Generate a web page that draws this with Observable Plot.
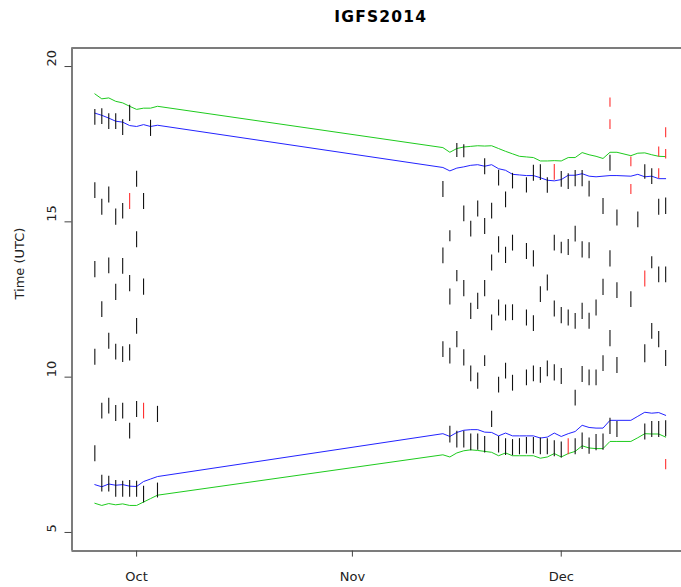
<!DOCTYPE html>
<html>
<head>
<meta charset="utf-8">
<script src="https://cdn.jsdelivr.net/npm/d3@7"></script>
<script src="https://cdn.jsdelivr.net/npm/@observablehq/plot@0.6"></script>
<style>
  html, body { margin: 0; padding: 0; background: #fff; }
  #chart svg { display: block; }
</style>
</head>
<body>
<div id="chart"></div>
<script>
// IGFS2014 survey: haul times (UTC) per survey day, with sunrise/sunset and civil twilight.

const chartTitle = "IGFS2014";
const yTitle = "Time (UTC)";
const hourTicks = [5, 10, 15, 20];
const monthTicks = ["2014-10-01", "2014-11-01", "2014-12-01"];

const surveyDays = [
  "2014-09-25", "2014-09-26", "2014-09-27", "2014-09-28", "2014-09-29",
  "2014-09-30", "2014-10-01", "2014-10-02", "2014-10-03", "2014-10-04",
  "2014-11-14", "2014-11-15", "2014-11-16", "2014-11-17", "2014-11-18",
  "2014-11-19", "2014-11-20", "2014-11-21", "2014-11-22", "2014-11-23",
  "2014-11-24", "2014-11-25", "2014-11-26", "2014-11-27", "2014-11-28",
  "2014-11-29", "2014-11-30", "2014-12-01", "2014-12-02", "2014-12-03",
  "2014-12-04", "2014-12-05", "2014-12-06", "2014-12-07", "2014-12-08",
  "2014-12-09", "2014-12-11", "2014-12-12", "2014-12-13", "2014-12-14",
  "2014-12-15", "2014-12-16"
];

// Hauls per survey day: [start hour, end hour] and a trailing 1 for flagged hauls.
const hauls = [
  [[18.11, 18.62], [15.75, 16.26], [13.20, 13.72], [10.38, 10.90], [7.28, 7.79]],
  [[18.13, 18.64], [15.21, 15.73], [11.92, 12.43], [8.65, 9.16], [6.30, 6.84]],
  [[17.97, 18.48], [15.61, 16.12], [13.33, 13.84], [10.90, 11.41], [8.81, 9.32], [6.30, 6.81]],
  [[17.97, 18.48], [14.89, 15.41], [12.47, 12.99], [10.55, 11.06], [8.57, 9.09], [6.13, 6.67]],
  [[17.78, 18.29], [15.09, 15.59], [13.31, 13.82], [10.47, 10.98], [8.65, 9.16], [6.13, 6.65]],
  [[18.23, 18.75], [15.40, 15.91, 1], [12.75, 13.27], [10.52, 11.04], [8.01, 8.52], [6.13, 6.67]],
  [[16.11, 16.63], [14.17, 14.68], [11.38, 11.89], [8.70, 9.22], [6.13, 6.65]],
  [[15.40, 15.91], [12.64, 13.16], [8.65, 9.16, 1], [5.95, 6.49]],
  [[17.75, 18.27]],
  [[8.54, 9.06], [6.11, 6.59]],
  [[15.78, 16.30], [13.65, 14.16], [10.63, 11.14]],
  [[14.36, 14.71], [12.32, 12.84], [10.42, 10.93], [7.88, 8.42]],
  [[17.07, 17.52], [13.07, 13.43], [10.95, 11.47], [7.72, 8.26]],
  [[17.06, 17.48], [15.00, 15.51], [12.59, 13.11], [10.36, 10.88], [7.72, 8.26]],
  [[14.51, 15.02], [11.86, 12.38], [9.85, 10.36], [7.63, 8.17]],
  [[15.16, 15.67], [12.18, 12.70], [9.61, 10.13], [7.65, 8.17]],
  [[16.52, 17.03], [14.59, 15.11], [12.59, 13.11], [10.34, 10.69], [7.56, 8.09]],
  [[15.09, 15.60], [13.42, 13.93], [11.49, 12.00], [8.38, 8.90]],
  [[16.15, 16.66], [14.00, 14.52], [11.97, 12.48], [9.49, 10.00], [7.56, 8.09]],
  [[15.45, 15.96], [13.66, 14.18], [11.81, 12.32], [9.94, 10.45], [7.48, 8.02]],
  [[16.06, 16.56], [14.06, 14.57], [11.82, 12.33], [9.55, 10.06], [7.47, 7.99]],
  [[7.50, 8.02]],
  [[15.93, 16.42], [13.79, 14.30], [11.65, 12.16], [9.72, 10.23], [7.53, 8.06]],
  [[16.31, 16.82], [13.55, 14.07], [11.47, 11.98], [9.85, 10.36], [7.53, 8.06]],
  [[16.33, 16.84], [12.40, 12.91], [9.80, 10.31], [7.50, 8.04]],
  [[15.92, 16.42], [12.77, 13.29], [10.01, 10.52], [7.50, 8.02]],
  [[16.34, 16.85, 1], [14.06, 14.57], [11.94, 12.45], [9.88, 10.40], [7.44, 7.95]],
  [[16.11, 16.62], [13.97, 14.34], [11.72, 12.24], [9.76, 10.28], [7.40, 7.91]],
  [[16.04, 16.55], [13.92, 14.43], [11.65, 12.16], [7.50, 8.02, 1]],
  [[16.13, 16.65], [14.35, 14.86], [11.54, 12.05], [9.07, 9.58], [7.50, 8.02]],
  [[16.13, 16.65], [13.84, 14.36], [11.86, 12.38], [9.83, 10.34], [7.67, 8.20]],
  [[15.80, 16.31], [13.81, 14.33], [11.54, 12.06], [9.72, 10.23], [7.52, 8.04]],
  [[11.97, 12.48], [9.72, 10.23], [7.63, 8.15]],
  [[15.24, 15.75], [12.63, 13.15], [10.18, 10.69], [7.65, 8.17]],
  [[18.69, 18.99, 1], [17.97, 18.29, 1], [16.63, 17.14], [13.55, 14.07], [10.98, 11.50], [8.15, 8.68]],
  [[14.87, 15.38], [12.53, 13.04], [10.12, 10.63], [8.06, 8.57]],
  [[16.77, 17.09, 1], [15.88, 16.20, 1], [12.24, 12.75]],
  [[14.81, 15.32]],
  [[16.37, 16.84], [12.90, 13.42, 1], [10.46, 11.04], [7.98, 8.49]],
  [[16.20, 16.71], [13.49, 13.88], [11.22, 11.73], [8.06, 8.57]],
  [[17.09, 17.41, 1], [16.39, 16.71, 1], [15.21, 15.73], [13.04, 13.55], [10.95, 11.47], [8.06, 8.57]],
  [[17.71, 18.03, 1], [17.02, 17.33, 1], [15.24, 15.77], [13.04, 13.55], [10.34, 10.86], [8.08, 8.60], [7.02, 7.35, 1]]
];

// Daylight at the haul positions, hours UTC, one value per survey day.
const sunset = [
  18.50, 18.43, 18.34, 18.24, 18.21, 18.10, 18.07, 18.13, 18.07, 18.11,
  16.75, 16.64, 16.73, 16.77, 16.82, 16.84, 16.79, 16.84, 16.71, 16.66,
  16.53, 16.51, 16.49, 16.49, 16.42, 16.34, 16.32, 16.36, 16.50, 16.50,
  16.55, 16.47, 16.45, 16.47, 16.49, 16.49, 16.47, 16.53, 16.45, 16.47,
  16.39, 16.39
];
const dusk = [
  19.12, 18.96, 18.99, 18.88, 18.83, 18.72, 18.62, 18.66, 18.66, 18.72,
  17.39, 17.24, 17.36, 17.41, 17.43, 17.45, 17.44, 17.45, 17.36, 17.27,
  17.19, 17.11, 17.09, 17.07, 16.96, 16.96, 16.97, 16.96, 17.07, 17.07,
  17.23, 17.16, 17.11, 17.04, 17.24, 17.24, 17.13, 17.21, 17.22, 17.16,
  17.11, 17.10
];
const sunrise = [
  6.54, 6.47, 6.56, 6.52, 6.54, 6.49, 6.48, 6.64, 6.72, 6.80,
  8.18, 8.09, 8.22, 8.29, 8.31, 8.31, 8.23, 8.22, 8.11, 8.20,
  8.11, 8.11, 8.11, 8.11, 8.04, 8.07, 8.20, 8.09, 8.18, 8.25,
  8.45, 8.38, 8.36, 8.36, 8.61, 8.61, 8.61, 8.74, 8.87, 8.84,
  8.86, 8.77
];
const dawn = [
  5.94, 5.87, 5.93, 5.89, 5.92, 5.87, 5.87, 5.98, 6.09, 6.20,
  7.50, 7.43, 7.56, 7.63, 7.66, 7.64, 7.61, 7.58, 7.47, 7.56,
  7.47, 7.47, 7.47, 7.47, 7.39, 7.43, 7.54, 7.43, 7.54, 7.61,
  7.79, 7.72, 7.70, 7.70, 7.93, 7.93, 7.93, 8.05, 8.18, 8.17,
  8.17, 8.07
];

// ---- derived tables ----
const day = (s) => new Date(s + "T00:00:00Z");
const dates = surveyDays.map(day);

const haulRows = dates.flatMap((date, i) =>
  hauls[i].map(([start, end, flag]) => ({date, start, end, flagged: flag === 1}))
);
const series = (values) => dates.map((date, i) => ({date, hour: values[i]}));

// R-style axis ranges: 4% padding around the data dates and the 5–20 h limits.
const first = +dates[0], last = +dates[dates.length - 1];
const pad = 0.04 * (last - first);
const xStart = first - pad, xEndFull = last + pad;
const W = 681, H = 587;
const left = 71.5, rightFull = 688;             // plot region runs past the window edge
const xEnd = xStart + (xEndFull - xStart) * (W - left) / (rightFull - left);
const yLim = [5, 20];
const yPad = 0.04 * (yLim[1] - yLim[0]);
const yDomain = [yLim[0] - yPad, yLim[1] + yPad];

const frameColor = "#7c7c7c";
const inkColor = "#222";

const chart = Plot.plot({
  width: W,
  height: H,
  marginLeft: left,
  marginRight: 0,
  marginTop: 47.4,
  marginBottom: 36.4,
  style: {fontFamily: "'DejaVu Sans', sans-serif", fontSize: "13px", color: inkColor, background: "#fff"},
  x: {type: "utc", domain: [new Date(xStart), new Date(xEnd)]},
  y: {domain: yDomain},
  marks: [
    // twilight and sunrise/sunset curves
    Plot.line(series(dusk), {x: "date", y: "hour", stroke: "#1ecb1e", strokeWidth: 1}),
    Plot.line(series(dawn), {x: "date", y: "hour", stroke: "#1ecb1e", strokeWidth: 1}),
    Plot.line(series(sunset), {x: "date", y: "hour", stroke: "#2323ff", strokeWidth: 1}),
    Plot.line(series(sunrise), {x: "date", y: "hour", stroke: "#2323ff", strokeWidth: 1}),
    // hauls
    Plot.ruleX(haulRows.filter((d) => !d.flagged), {x: "date", y1: "start", y2: "end", stroke: "#111", strokeWidth: 1.1}),
    Plot.ruleX(haulRows.filter((d) => d.flagged), {x: "date", y1: "start", y2: "end", stroke: "#ff3030", strokeWidth: 1.1}),
    // plot box (left, top, bottom)
    Plot.ruleX([new Date(xStart)], {stroke: frameColor, strokeWidth: 2}),
    Plot.ruleY(yDomain, {stroke: frameColor, strokeWidth: 2}),
    // axes
    Plot.axisX({
      ticks: monthTicks.map(day),
      tickFormat: d3.utcFormat("%b"),
      tickSize: 6,
      tickPadding: 15,
      label: null,
      stroke: "#444",
      fontSize: 13
    }),
    Plot.axisY({ticks: hourTicks, tickSize: 7, tickFormat: () => "", label: null, stroke: "#444"}),
    Plot.text(hourTicks, {
      y: (d) => d, text: (d) => String(d), frameAnchor: "left",
      rotate: -90, lineAnchor: "bottom", dx: -16, fontSize: 13, fill: inkColor
    }),
    Plot.text([yTitle], {frameAnchor: "left", rotate: -90, lineAnchor: "bottom", dx: -48, fontSize: 13, fill: inkColor}),
    Plot.text([chartTitle], {
      frameAnchor: "top", lineAnchor: "bottom", dy: -26.4, dx: 4,
      fontWeight: "bold", fontSize: 15.5, fill: "#000"
    })
  ]
});

for (const t of chart.querySelectorAll("text")) {
  if (t.textContent === chartTitle) t.style.letterSpacing = "1.2px";
}
document.getElementById("chart").append(chart);
</script>
</body>
</html>
